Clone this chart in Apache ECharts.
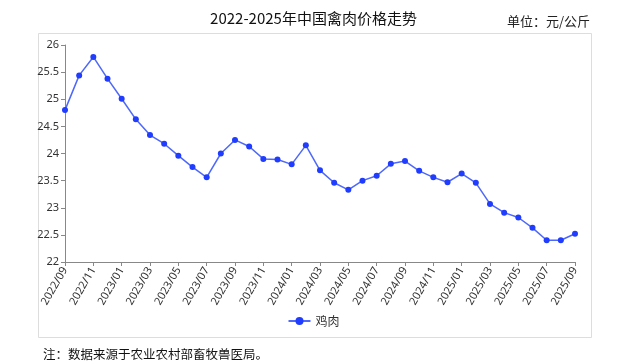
<!DOCTYPE html>
<html><head><meta charset="utf-8">
<script src="https://cdn.jsdelivr.net/npm/echarts@6/dist/echarts.min.js"></script>
<style>html,body{margin:0;padding:0;background:#fff}#c{width:627px;height:364px}</style>
</head><body><div id="c"></div>
<script>
const categories = ['2022/09','2022/10','2022/11','2022/12','2023/01','2023/02','2023/03','2023/04','2023/05','2023/06','2023/07','2023/08','2023/09','2023/10','2023/11','2023/12','2024/01','2024/02','2024/03','2024/04','2024/05','2024/06','2024/07','2024/08','2024/09','2024/10','2024/11','2024/12','2025/01','2025/02','2025/03','2025/04','2025/05','2025/06','2025/07','2025/08','2025/09'];
const chickenPrices = [24.80,25.44,25.78,25.38,25.01,24.63,24.34,24.18,23.96,23.75,23.56,24.00,24.25,24.13,23.90,23.89,23.80,24.15,23.69,23.46,23.33,23.50,23.59,23.81,23.86,23.68,23.56,23.47,23.63,23.46,23.07,22.91,22.82,22.63,22.40,22.40,22.52];
const seriesName = '鸡肉';
const titleText = '2022-2025年中国禽肉价格走势';
const unitText = '单位：元/公斤';
const noteText = '注：数据来源于农业农村部畜牧兽医局。';

const chart = echarts.init(document.getElementById('c'));
chart.setOption({
  animation: false,
  backgroundColor: '#fff',
  title: [
    {text: titleText, left: 'center', top: 6, textStyle: {fontFamily: 'Noto Sans CJK SC', fontSize: 15, fontWeight: 'normal', color: '#111'}},
    {text: unitText, left: 502, top: 10, textStyle: {fontFamily: 'Noto Sans CJK SC', fontSize: 13, fontWeight: 'normal', color: '#222'}},
    {text: noteText, left: 38, top: 343, textStyle: {fontFamily: 'Noto Sans CJK SC', fontSize: 12.5, fontWeight: 'normal', color: '#111'}}
  ],
  graphic: [{type: 'rect', shape: {x: 38.5, y: 33.5, width: 553, height: 304}, style: {fill: 'none', stroke: '#ddd', lineWidth: 1}, z: -1}],
  legend: {bottom: 32, left: 'center', itemWidth: 22, itemHeight: 10, textStyle: {fontFamily: 'Noto Sans CJK SC', fontSize: 12, color: '#333'}, data: [seriesName]},
  grid: {left: 65, right: 52, top: 45, bottom: 102},
  xAxis: {
    type: 'category', data: categories, boundaryGap: false,
    axisLine: {lineStyle: {color: '#888'}},
    axisTick: {interval: 1, length: 4, lineStyle: {color: '#888'}},
    axisLabel: {interval: 1, rotate: 60, fontSize: 11, color: '#333', fontFamily: 'Noto Sans', margin: 6}
  },
  yAxis: {
    type: 'value', min: 22, max: 26, interval: 0.5,
    axisLine: {show: true, lineStyle: {color: '#888'}},
    axisTick: {show: true, length: 4, lineStyle: {color: '#888'}},
    splitLine: {show: false},
    axisLabel: {fontSize: 11, color: '#333', fontFamily: 'Noto Sans', margin: 6}
  },
  series: [{
    name: seriesName, type: 'line', data: chickenPrices,
    symbol: 'circle', symbolSize: 6,
    lineStyle: {color: '#4d68fb', width: 1.5},
    itemStyle: {color: '#1f3cff'}
  }]
});
</script></body></html>
